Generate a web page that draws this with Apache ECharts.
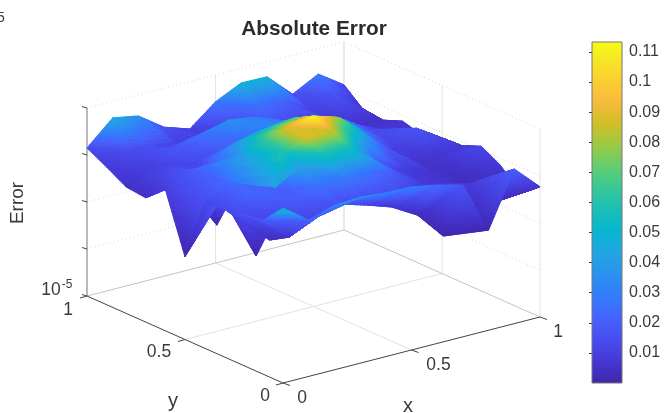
<!DOCTYPE html>
<html>
<head>
<meta charset="utf-8">
<title>Absolute Error</title>
<script src="https://cdn.jsdelivr.net/npm/echarts@6/dist/echarts.min.js"></script>
<style>
  html, body { margin: 0; background: #fff; }
  #chart { width: 670px; height: 413px; filter: blur(0.4px); }
</style>
</head>
<body>
<div id="chart"></div>
<script>
// 11 x 11 samples, one list per y step (y = 0 first), x = 0 .. 1 along each list
var xValues = [0, 0.1, 0.2, 0.3, 0.4, 0.5, 0.6, 0.7, 0.8, 0.9, 1];
var yValues = [0, 0.1, 0.2, 0.3, 0.4, 0.5, 0.6, 0.7, 0.8, 0.9, 1];
var errorY00 = [0.0525, 0.0214, 0.0316, 0.0339, 0.0302, 0.0295, 0.0234, 0.0170, 0.00135, 0.0195, 0.0059];
var errorY01 = [0.0191, 0.0060, 0.0110, 0.0158, 0.0110, 0.0072, 0.0035, 0.00091, 0.0085, 0.0025, 0.0028];
var errorY02 = [0.0165, 0.0034, 0.0200, 0.0251, 0.0282, 0.0251, 0.0178, 0.0079, 0.0055, 0.0032, 0.0071];
var errorY03 = [0.0140, 0.0230, 0.0200, 0.0420, 0.0580, 0.0550, 0.0174, 0.0093, 0.0071, 0.0040, 0.0120];
var errorY04 = [0.0120, 0.0230, 0.00048, 0.0600, 0.0891, 0.0851, 0.0450, 0.0200, 0.0040, 0.0063, 0.0081];
var errorY05 = [0.00058, 0.0210, 0.0398, 0.0603, 0.0891, 0.1122, 0.0760, 0.0269, 0.0115, 0.0170, 0.0076];
var errorY06 = [0.0100, 0.0191, 0.00093, 0.0437, 0.0562, 0.0661, 0.0479, 0.0316, 0.0141, 0.0089, 0.0056];
var errorY07 = [0.0044, 0.0138, 0.0126, 0.0191, 0.0263, 0.0316, 0.0251, 0.0200, 0.0126, 0.0071, 0.0074];
var errorY08 = [0.0049, 0.0100, 0.0182, 0.0263, 0.0355, 0.0295, 0.0132, 0.0100, 0.0100, 0.0056, 0.0051];
var errorY09 = [0.0085, 0.0141, 0.0089, 0.0074, 0.0100, 0.0158, 0.0251, 0.0200, 0.0100, 0.0158, 0.0055];
var errorY10 = [0.0141, 0.0447, 0.0355, 0.0148, 0.0098, 0.0269, 0.0490, 0.0479, 0.0148, 0.0288, 0.0123];
var errorRows = [errorY00, errorY01, errorY02, errorY03, errorY04, errorY05, errorY06, errorY07, errorY08, errorY09, errorY10];

var zTicks = [1e-5, 1e-4, 1e-3, 1e-2, 1e-1];
var planeTicks = [0, 0.5, 1];
var colorbarTicks = [0.01, 0.02, 0.03, 0.04, 0.05, 0.06, 0.07, 0.08, 0.09, 0.1, 0.11];
var colorMax = 0.1133;

// parula
var parula = ['#3e26a8', '#4537d5', '#484df0', '#4563fd', '#327cfc', '#2b91ef', '#20a5e3', '#08b5d0', '#19bfb6',
  '#37c897', '#64cd6f', '#9dc943', '#d1bf27', '#f8ba3d', '#fccf30', '#f5e924', '#f9fb15'];
var parulaAt = [0, 4, 8, 12, 16, 20, 24, 28, 32, 36, 40, 44, 48, 52, 56, 60, 63];

var parulaRgb = parula.map(function (c) {
  return [parseInt(c.substr(1, 2), 16), parseInt(c.substr(3, 2), 16), parseInt(c.substr(5, 2), 16)];
});

function colorOf(v) {
  var t = Math.max(0, Math.min(1, v / colorMax)) * 63;
  var k = 0;
  while (k < parulaAt.length - 2 && t > parulaAt[k + 1]) k++;
  var f = (t - parulaAt[k]) / (parulaAt[k + 1] - parulaAt[k]);
  var a = parulaRgb[k], b = parulaRgb[k + 1];
  return 'rgb(' + Math.round(a[0] + (b[0] - a[0]) * f) + ',' + Math.round(a[1] + (b[1] - a[1]) * f) + ',' + Math.round(a[2] + (b[2] - a[2]) * f) + ')';
}

// fixed 3d view, MATLAB style parallel projection
function project(x, y, z) {
  var h = Math.log10(z) + 5;
  return [283 + 257 * x - 196 * y, 383 - 66 * x - 87 * y - 47 * h];
}

// one item per mesh cell, far corner first so nearer cells paint over
var cellData = [];
for (var j = yValues.length - 2; j >= 0; j--) {
  for (var i = xValues.length - 2; i >= 0; i--) {
    cellData.push([xValues[i], yValues[j], xValues[i + 1], yValues[j + 1],
      errorRows[j][i], errorRows[j][i + 1], errorRows[j + 1][i], errorRows[j + 1][i + 1]]);
  }
}

var SUB = 9;

// flat triangle cut into small pieces, colour runs linearly in the value and height in log10
function pushTriangle(children, api, A, B, C) {
  function mix(a, b) {
    var c = 1 - a - b;
    var logz = A.l * a + B.l * b + C.l * c;
    return api.coord(project(A.x * a + B.x * b + C.x * c, A.y * a + B.y * b + C.y * c, Math.pow(10, logz)));
  }
  function piece(p1, p2, p3) {
    var a = (p1[0] + p2[0] + p3[0]) / 3, b = (p1[1] + p2[1] + p3[1]) / 3;
    var col = colorOf(A.v * a + B.v * b + C.v * (1 - a - b));
    children.push({
      type: 'polygon', silent: true,
      shape: { points: [mix(p1[0], p1[1]), mix(p2[0], p2[1]), mix(p3[0], p3[1])] },
      style: { fill: col, stroke: col, lineWidth: 1 }
    });
  }
  for (var m = 0; m < SUB; m++) {
    for (var n = 0; n < SUB - m; n++) {
      var a0 = m / SUB, a1 = (m + 1) / SUB, b0 = n / SUB, b1 = (n + 1) / SUB;
      piece([a0, b0], [a1, b0], [a0, b1]);
      if (m + n < SUB - 1) piece([a1, b0], [a1, b1], [a0, b1]);
    }
  }
}

function renderCell(params, api) {
  var x0 = api.value(0), y0 = api.value(1), x1 = api.value(2), y1 = api.value(3);
  function vert(x, y, v) { return { x: x, y: y, v: v, l: Math.log10(v) }; }
  var p00 = vert(x0, y0, api.value(4)), p10 = vert(x1, y0, api.value(5));
  var p01 = vert(x0, y1, api.value(6)), p11 = vert(x1, y1, api.value(7));
  var children = [];
  pushTriangle(children, api, p11, p10, p01);
  pushTriangle(children, api, p00, p10, p01);
  return { type: 'group', children: children };
}

function renderBox(params, api) {
  var zTop = zTicks[zTicks.length - 1], zLow = zTicks[0];
  var out = [];

  function line(a, b, color, width, dash) {
    var p = api.coord(a), q = api.coord(b);
    out.push({
      type: 'line', silent: true,
      shape: { x1: p[0], y1: p[1], x2: q[0], y2: q[1] },
      style: { stroke: color, lineWidth: width, lineDash: dash || null }
    });
  }
  function text(str, a, opt) {
    var p = api.coord(a);
    out.push({
      type: 'text', silent: true, rotation: opt.rotation || 0, x: p[0], y: p[1],
      style: {
        text: str, fill: '#3a3a3a', align: opt.align || 'center', verticalAlign: 'middle',
        font: (opt.size || 17.5) + 'px "Liberation Sans", Arial, sans-serif'
      }
    });
  }
  function addPx(p, dx, dy) { return [p[0] + dx, p[1] + dy]; }

  var gridColor = '#e2e2e2', dotColor = '#d4d4d4', axisColor = '#444';

  // back walls
  zTicks.slice(1).forEach(function (z) {
    line(project(0, 1, z), project(1, 1, z), dotColor, 1, [1, 3]);
    line(project(1, 1, z), project(1, 0, z), dotColor, 1, [1, 3]);
  });
  planeTicks.slice(1).forEach(function (t) {
    line(project(t, 1, zLow), project(t, 1, zTop), gridColor, 1);
    line(project(1, t, zLow), project(1, t, zTop), gridColor, 1);
    line(project(t, 0, zLow), project(t, 1, zLow), t === 1 ? '#c4c4c4' : gridColor, 1);
    line(project(0, t, zLow), project(1, t, zLow), t === 1 ? '#c4c4c4' : gridColor, 1);
  });
  line(project(1, 0, zLow), project(1, 0, zTop), gridColor, 1);

  // axes
  line(project(0, 0, zLow), project(1, 0, zLow), axisColor, 1);
  line(project(0, 0, zLow), project(0, 1, zLow), axisColor, 1);
  line(project(0, 1, zLow), project(0, 1, zTop), '#777', 1);

  planeTicks.forEach(function (t) {
    var p = project(t, 0, zLow);
    line(p, addPx(p, 7, 2.5), axisColor, 1);
    var q = project(0, t, zLow);
    line(q, addPx(q, -7, 2), axisColor, 1);
  });
  zTicks.forEach(function (z) {
    var p = project(0, 1, z);
    line(p, addPx(p, -5, -1.5), axisColor, 1);
  });

  // tick labels and axis names
  text('0', addPx(project(0, 0, zLow), 19, 15), {});
  text('0.5', addPx(project(0.5, 0, zLow), 27, 15), {});
  text('1', addPx(project(1, 0, zLow), 18, 15), {});
  text('0', addPx(project(0, 0, zLow), -18, 13), {});
  text('0.5', addPx(project(0, 0.5, zLow), -26, 13), {});
  text('1', addPx(project(0, 1, zLow), -19, 14), {});
  text('10', addPx(project(0, 1, zLow), -36, -6), {});
  text('-5', addPx(project(0, 1, zLow), -20, -11), { size: 12 });
  text('x', [408, 406], { size: 20 });
  text('y', [173, 401], { size: 20 });
  text('Error', [18, 203], { size: 19, rotation: Math.PI / 2 });
  text('5', [1, 18], { size: 14 });

  return { type: 'group', children: out };
}

function renderColorbar(params, api) {
  var top = api.coord([0, api.value(1)]);
  var bottom = api.coord([1, api.value(0)]);
  var stops = parula.map(function (c, k) {
    return { offset: parulaAt[k] / 63, color: c };
  });
  return {
    type: 'rect', silent: true,
    shape: { x: top[0], y: top[1], width: bottom[0] - top[0], height: bottom[1] - top[1] },
    style: { fill: new echarts.graphic.LinearGradient(0, 1, 0, 0, stops) }
  };
}

var chart = echarts.init(document.getElementById('chart'));
chart.setOption({
  animation: false,
  backgroundColor: '#fff',
  title: {
    text: 'Absolute Error',
    left: 309,
    top: 14,
    textAlign: 'center',
    textStyle: { color: '#2b2b2b', fontSize: 20.8, fontWeight: 'bold', fontFamily: '"Liberation Sans", Arial, sans-serif' }
  },
  grid: [
    { left: 0, top: 0, width: 670, height: 413 },
    { left: 592, top: 42, width: 30, height: 341, show: true, backgroundColor: 'transparent', borderColor: '#777', borderWidth: 1, z: 5 }
  ],
  xAxis: [
    { type: 'value', gridIndex: 0, min: 0, max: 670, show: false },
    { type: 'value', gridIndex: 1, min: 0, max: 1, show: false }
  ],
  yAxis: [
    { type: 'value', gridIndex: 0, min: 0, max: 413, inverse: true, show: false },
    {
      type: 'value', gridIndex: 1, position: 'right', min: 0, max: colorMax,
      splitLine: { show: false },
      axisLine: { show: false },
      axisTick: { show: true, inside: true, length: 3, customValues: colorbarTicks, lineStyle: { color: '#333' } },
      axisLabel: {
        customValues: colorbarTicks, margin: 7, color: '#3a3a3a', fontSize: 16,
        fontFamily: '"Liberation Sans", Arial, sans-serif',
        formatter: function (v) { return String(v); }
      }
    }
  ],
  series: [
    { type: 'custom', name: 'box', xAxisIndex: 0, yAxisIndex: 0, data: [[0, 0]], renderItem: renderBox, clip: false, z: 1, silent: true },
    { type: 'custom', name: 'Error', xAxisIndex: 0, yAxisIndex: 0, data: cellData, renderItem: renderCell, clip: false, z: 2, silent: true, progressive: 0 },
    { type: 'custom', name: 'colorbar', xAxisIndex: 1, yAxisIndex: 1, data: [[0, colorMax]], renderItem: renderColorbar, z: 3, silent: true }
  ]
});
</script>
</body>
</html>
